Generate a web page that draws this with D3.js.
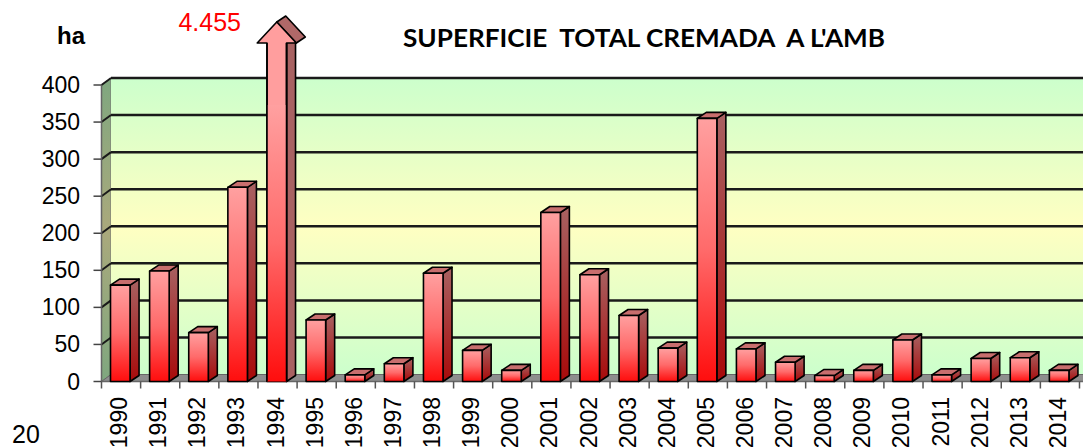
<!DOCTYPE html>
<html>
<head>
  <meta charset="utf-8">
  <title>Superficie total cremada a l'AMB</title>
  <script src="https://d3js.org/d3.v7.min.js"></script>
  <style>
    body { margin: 0; background: #fff; }
    svg { display: block; }
  </style>
</head>
<body>
  <div id="chart"></div>

  <script>
    // hectares burned per year
    var years = ["1990", "1991", "1992", "1993", "1994", "1995", "1996", "1997", "1998", "1999",
                 "2000", "2001", "2002", "2003", "2004", "2005", "2006", "2007", "2008", "2009",
                 "2010", "2011", "2012", "2013", "2014"];
    var hectares = [130, 149, 66, 262, 4455, 83, 9, 24, 146, 42,
                    15, 228, 144, 89, 45, 355, 44, 26, 8, 15,
                    56, 9, 31, 32, 15];
    var yTicks = [0, 50, 100, 150, 200, 250, 300, 350, 400];
    var yMax = 400;

    var width = 1083, height = 447;
    var depth = { dx: 9.5, dy: -7 };   // wall/floor depth
    var barDepth = { dx: 9, dy: -6 };

    var svg = d3.select("#chart").append("svg")
      .attr("width", width)
      .attr("height", height);

    var defs = svg.append("defs");

    function vGrad(id, stops) {
      var g = defs.append("linearGradient").attr("id", id)
        .attr("x1", 0).attr("y1", 0).attr("x2", 0).attr("y2", 1);
      stops.forEach(function(s) {
        g.append("stop").attr("offset", s[0]).attr("stop-color", s[1]);
      });
    }
    vGrad("wallGrad", [[0, "#ccffcc"], [0.5, "#ffffc2"], [1, "#ccffcc"]]);
    vGrad("sideGrad", [[0, "#7fa77f"], [0.5, "#aaa97c"], [1, "#7fa77f"]]);
    vGrad("frontGrad", [[0, "#ffa0a0"], [0.5, "#ff6a6a"], [1, "#ff0d0d"]]);
    vGrad("barSideGrad", [[0, "#a86262"], [1, "#a80a0a"]]);

    var x = d3.scaleBand()
      .domain(years)
      .range([101.5, 1079.5])
      .padding(0);

    var y = d3.scaleLinear()
      .domain([0, yMax])
      .range([381.5, 85]);

    var x0 = x.range()[0];
    var step = x.step();

    // side wall
    svg.append("path")
      .attr("d", "M" + x0 + "," + y(yMax) +
                 "L" + (x0 + depth.dx) + "," + (y(yMax) + depth.dy) +
                 "L" + (x0 + depth.dx) + "," + (y(0) + depth.dy) +
                 "L" + x0 + "," + y(0) + "Z")
      .attr("fill", "url(#sideGrad)")
      .attr("stroke", "#777")
      .attr("stroke-width", 1);

    // back wall
    svg.append("rect")
      .attr("x", x0 + depth.dx)
      .attr("y", y(yMax) + depth.dy)
      .attr("width", width)
      .attr("height", y(0) - y(yMax))
      .attr("fill", "url(#wallGrad)");

    // gridlines on back wall and side wall
    var grid = svg.append("g");
    yTicks.forEach(function(t) {
      if (t === 0) return;
      grid.append("line")
        .attr("x1", x0 + depth.dx).attr("x2", width + 5)
        .attr("y1", y(t) + depth.dy).attr("y2", y(t) + depth.dy)
        .attr("stroke", "#1a1a1a").attr("stroke-width", 2.5);
      grid.append("line")
        .attr("x1", x0).attr("x2", x0 + depth.dx)
        .attr("y1", y(t)).attr("y2", y(t) + depth.dy)
        .attr("stroke", "#1a1a1a").attr("stroke-width", 2);
    });

    // floor
    svg.append("path")
      .attr("d", "M" + x0 + "," + y(0) +
                 "L" + (x0 + depth.dx) + "," + (y(0) + depth.dy) +
                 "L" + (width + 10) + "," + (y(0) + depth.dy) +
                 "L" + (width + 10) + "," + y(0) + "Z")
      .attr("fill", "#8e8e8e")
      .attr("stroke", "#666")
      .attr("stroke-width", 1);

    // y axis line and ticks
    svg.append("line")
      .attr("x1", x0).attr("x2", x0)
      .attr("y1", y(yMax)).attr("y2", y(0))
      .attr("stroke", "#666").attr("stroke-width", 1.5);

    svg.selectAll(".ytick")
      .data(yTicks)
      .enter().append("line")
      .attr("x1", x0 - 8).attr("x2", x0)
      .attr("y1", function(d) { return y(d); })
      .attr("y2", function(d) { return y(d); })
      .attr("stroke", "#444").attr("stroke-width", 1.5);

    svg.selectAll(".ylabel")
      .data(yTicks)
      .enter().append("text")
      .attr("x", 80)
      .attr("y", function(d) { return y(d) + 8; })
      .attr("text-anchor", "end")
      .style("font-family", "'Liberation Sans', Arial, sans-serif")
      .style("font-size", "23px")
      .style("fill", "#000")
      .text(function(d) { return d; });

    // category ticks under floor
    svg.append("line")
      .attr("x1", x0).attr("x2", width)
      .attr("y1", y(0)).attr("y2", y(0))
      .attr("stroke", "#666").attr("stroke-width", 1.5);

    svg.selectAll(".xtick")
      .data(years.concat(["end"]))
      .enter().append("line")
      .attr("x1", function(d, i) { return x0 + i * step; })
      .attr("x2", function(d, i) { return x0 + i * step; })
      .attr("y1", y(0)).attr("y2", y(0) + 7)
      .attr("stroke", "#555").attr("stroke-width", 1.5);

    // bars
    var bars = svg.append("g");
    var bw = step * 0.5;

    years.forEach(function(yr, i) {
      var v = hectares[i];
      var bx = x(yr) + step * 0.23;
      var base = y(0);
      var g = bars.append("g")
        .attr("stroke", "#000")
        .attr("stroke-width", 1.6)
        .attr("stroke-linejoin", "round");

      if (v > yMax) {
        // off-scale value: draw as arrow
        var headBase = 43, tip = 22, cx = bx + bw / 2, hw = bw;
        g.append("path")
          .attr("d", "M" + (bx + bw) + "," + headBase +
                     "L" + (bx + bw + barDepth.dx) + "," + (headBase + barDepth.dy) +
                     "L" + (bx + bw + barDepth.dx) + "," + (base + barDepth.dy) +
                     "L" + (bx + bw) + "," + base + "Z")
          .attr("fill", "#a86262");
        g.append("path")
          .attr("d", "M" + cx + "," + tip +
                     "L" + (cx + barDepth.dx) + "," + (tip + barDepth.dy) +
                     "L" + (cx + hw + barDepth.dx) + "," + (headBase + barDepth.dy) +
                     "L" + (cx + hw) + "," + headBase + "Z")
          .attr("fill", "#b06868");
        g.append("path")
          .attr("d", "M" + bx + "," + base +
                     "L" + bx + "," + headBase +
                     "L" + (cx - hw) + "," + headBase +
                     "L" + cx + "," + tip +
                     "L" + (cx + hw) + "," + headBase +
                     "L" + (bx + bw) + "," + headBase +
                     "L" + (bx + bw) + "," + base + "Z")
          .attr("fill", "#ff9e9e");
        g.append("rect")
          .attr("x", bx).attr("y", y(yMax) + 20)
          .attr("width", bw).attr("height", base - y(yMax) - 20)
          .attr("fill", "url(#frontGrad)")
          .attr("stroke", "none");
        g.append("path")
          .attr("d", "M" + bx + "," + base + "L" + bx + "," + headBase +
                     "M" + (bx + bw) + "," + headBase + "L" + (bx + bw) + "," + base)
          .attr("fill", "none");
        return;
      }

      var top = y(v);
      g.append("path")
        .attr("d", "M" + (bx + bw) + "," + top +
                   "L" + (bx + bw + barDepth.dx) + "," + (top + barDepth.dy) +
                   "L" + (bx + bw + barDepth.dx) + "," + (base + barDepth.dy) +
                   "L" + (bx + bw) + "," + base + "Z")
        .attr("fill", "url(#barSideGrad)");
      g.append("path")
        .attr("d", "M" + bx + "," + top +
                   "L" + (bx + barDepth.dx) + "," + (top + barDepth.dy) +
                   "L" + (bx + bw + barDepth.dx) + "," + (top + barDepth.dy) +
                   "L" + (bx + bw) + "," + top + "Z")
        .attr("fill", "#c86e6e");
      g.append("rect")
        .attr("x", bx).attr("y", top)
        .attr("width", bw).attr("height", base - top)
        .attr("fill", "url(#frontGrad)");
    });

    // year labels
    svg.selectAll(".xlabel")
      .data(years)
      .enter().append("text")
      .attr("transform", function(d) {
        return "translate(" + (x(d) + step / 2 + 6) + ",397) rotate(-90)";
      })
      .attr("text-anchor", "end")
      .style("font-family", "'Liberation Sans', Arial, sans-serif")
      .style("font-size", "23px")
      .style("fill", "#000")
      .text(function(d) { return d; });

    // off-scale value label
    hectares.forEach(function(v, i) {
      if (v <= yMax) return;
      svg.append("text")
        .attr("x", 241).attr("y", 31)
        .attr("text-anchor", "end")
        .style("font-family", "'Liberation Sans', Arial, sans-serif")
        .style("font-size", "25px")
        .style("fill", "#ff0000")
        .text(d3.format(",")(v).replace(",", "."));
    });

    svg.append("text")
      .attr("x", 57).attr("y", 44)
      .style("font-family", "'Liberation Sans', Arial, sans-serif")
      .style("font-size", "24px")
      .style("font-weight", "bold")
      .text("ha");

    svg.append("text")
      .attr("x", 403).attr("y", 47)
      .attr("xml:space", "preserve")
      .attr("textLength", 482)
      .attr("lengthAdjust", "spacingAndGlyphs")
      .style("white-space", "pre")
      .style("font-family", "Lato, 'Open Sans', sans-serif")
      .style("font-size", "25px")
      .style("font-weight", "bold")
      .text("SUPERFICIE  TOTAL CREMADA  A L'AMB");

    svg.append("text")
      .attr("x", 12).attr("y", 443)
      .style("font-family", "'Liberation Sans', Arial, sans-serif")
      .style("font-size", "25px")
      .text("20");
  </script>
</body>
</html>
